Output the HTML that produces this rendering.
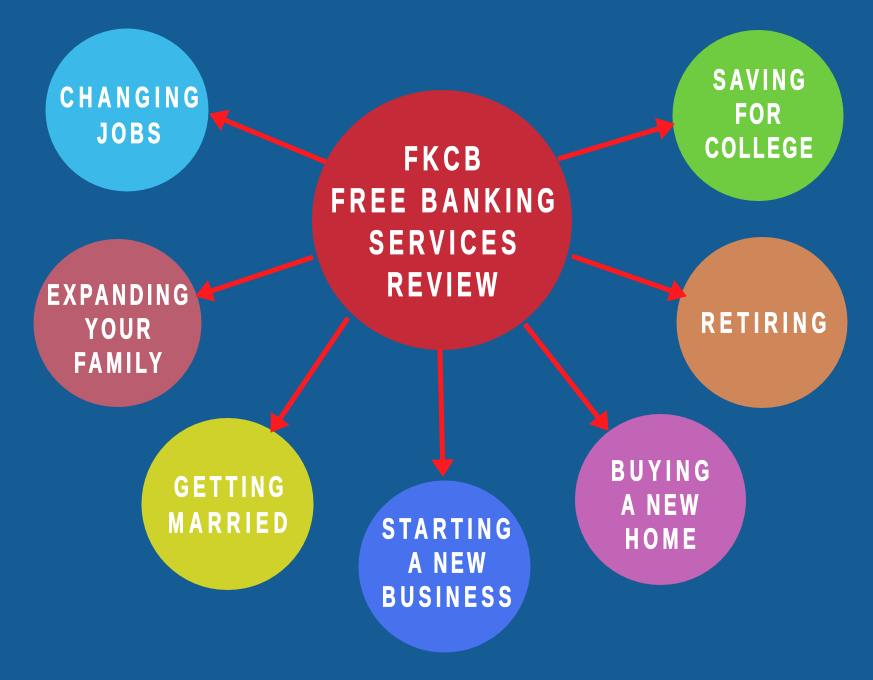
<!DOCTYPE html>
<html>
<head>
<meta charset="utf-8">
<style>
html,body{margin:0;padding:0;background:#155c94;}
svg{display:block;}
text{font-family:"Liberation Sans",sans-serif;font-weight:700;fill:#fff;stroke:#fff;stroke-width:.8;}
.s{font-size:29px;}
.b{font-size:34px;}
.a line{stroke:#fd1a1f;stroke-width:5;}
.a polygon{fill:#fd1a1f;stroke:#fd1a1f;stroke-width:1;stroke-linejoin:round;}
</style>
</head>
<body>
<svg width="873" height="680" viewBox="0 0 873 680" xmlns="http://www.w3.org/2000/svg">
<rect width="873" height="680" fill="#155c94"/>
<circle cx="442" cy="220" r="130" fill="#c42a38"/>
<circle cx="127" cy="110" r="81.5" fill="#3bb9e9"/>
<circle cx="758" cy="115.500" r="85.500" fill="#6fcb40"/>
<circle cx="762" cy="322.500" r="85.500" fill="#cf8759"/>
<circle cx="117.500" cy="323" r="84" fill="#ba5d6f"/>
<circle cx="227.500" cy="504" r="86" fill="#ced22a"/>
<circle cx="444.500" cy="566.500" r="86" fill="#4871ee"/>
<circle cx="660.500" cy="499.500" r="85.500" fill="#c265b6"/>

<g class="a" transform="translate(210,114) rotate(202.5)"><line x1="-125.500" y1="0" x2="-12" y2="0"/><polygon points="0,0 -16,-10.500 -16,10.500"/></g>
<g class="a" transform="translate(196,296) rotate(161.6)"><line x1="-123.300" y1="0" x2="-12" y2="0"/><polygon points="0,0 -16,-10.500 -16,10.500"/></g>
<g class="a" transform="translate(443,476) rotate(88.6)"><line x1="-127" y1="0" x2="-12" y2="0"/><polygon points="0,0 -16,-10.500 -16,10.500"/></g>
<g class="a" transform="translate(608,430) rotate(51.9)"><line x1="-134.600" y1="0" x2="-12" y2="0"/><polygon points="0,0 -16,-10.500 -16,10.500"/></g>
<g class="a" transform="translate(674,124) rotate(-16.8)"><line x1="-121.200" y1="0" x2="-12" y2="0"/><polygon points="0,0 -16,-10.500 -16,10.500"/></g>
<g class="a" transform="translate(686,296) rotate(19.3)"><line x1="-120.800" y1="0" x2="-12" y2="0"/><polygon points="0,0 -16,-10.500 -16,10.500"/></g>
<g class="a" transform="translate(271,432) rotate(124)"><line x1="-137.600" y1="0" x2="-12" y2="0"/><polygon points="0,0 -16,-10.500 -16,10.500"/></g>

<text class="b" transform="translate(404,170) scale(.66,1)" textLength="116">FKCB</text>
<text class="b" transform="translate(331,212) scale(.66,1)" textLength="339">FREE BANKING</text>
<text class="b" transform="translate(369,254) scale(.66,1)" textLength="223">SERVICES</text>
<text class="b" transform="translate(387,296) scale(.66,1)" textLength="167">REVIEW</text>

<text class="s" transform="translate(60,107) scale(.66,1)" textLength="210">CHANGING</text>
<text class="s" transform="translate(97,143) scale(.66,1)" textLength="96">JOBS</text>

<text class="s" transform="translate(713,89.500) scale(.66,1)" textLength="139">SAVING</text>
<text class="s" transform="translate(735,123.500) scale(.66,1)" textLength="69">FOR</text>
<text class="s" transform="translate(705,157.500) scale(.66,1)" textLength="163">COLLEGE</text>

<text class="s" transform="translate(701,332.500) scale(.66,1)" textLength="190">RETIRING</text>

<text class="s" transform="translate(47,304.500) scale(.66,1)" textLength="214">EXPANDING</text>
<text class="s" transform="translate(85,338.500) scale(.66,1)" textLength="99">YOUR</text>
<text class="s" transform="translate(74,372.500) scale(.66,1)" textLength="133">FAMILY</text>

<text class="s" transform="translate(174,496.500) scale(.66,1)" textLength="166">GETTING</text>
<text class="s" transform="translate(168,532.500) scale(.66,1)" textLength="181">MARRIED</text>

<text class="s" transform="translate(382,538.500) scale(.66,1)" textLength="195">STARTING</text>
<text class="s" transform="translate(408,572.500) scale(.66,1)" textLength="117">A NEW</text>
<text class="s" transform="translate(382,606.500) scale(.66,1)" textLength="196">BUSINESS</text>

<text class="s" transform="translate(611,480.500) scale(.66,1)" textLength="149">BUYING</text>
<text class="s" transform="translate(621,514.500) scale(.66,1)" textLength="117">A NEW</text>
<text class="s" transform="translate(625,548.500) scale(.66,1)" textLength="107">HOME</text>
</svg>
</body>
</html>
